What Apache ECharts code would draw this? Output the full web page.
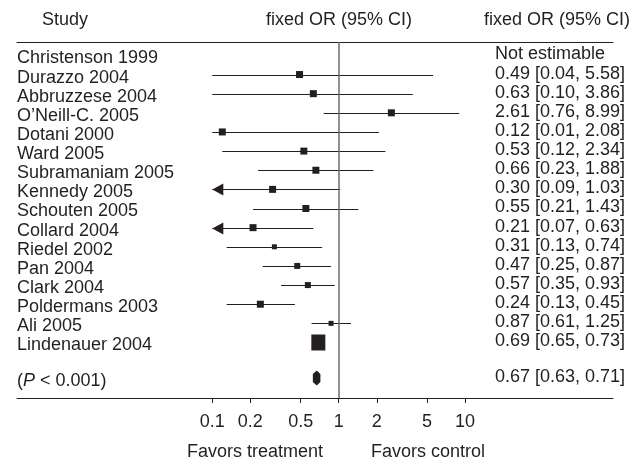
<!DOCTYPE html>
<html>
<head>
<meta charset="utf-8">
<script src="https://cdn.jsdelivr.net/npm/echarts@6/dist/echarts.min.js"></script>
<style>
  html, body { margin: 0; padding: 0; background: #fff; }
  #chart { width: 629px; height: 461px; }
</style>
</head>
<body>
<div id="chart"></div>
<script>
// ---- data ----
const studies = [
  'Christenson 1999', 'Durazzo 2004', 'Abbruzzese 2004', 'O\u2019Neill-C. 2005',
  'Dotani 2000', 'Ward 2005', 'Subramaniam 2005', 'Kennedy 2005',
  'Schouten 2005', 'Collard 2004', 'Riedel 2002', 'Pan 2004',
  'Clark 2004', 'Poldermans 2003', 'Ali 2005', 'Lindenauer 2004'
];
const oddsRatio = [null, 0.49, 0.63, 2.61, 0.12, 0.53, 0.66, 0.30, 0.55, 0.21, 0.31, 0.47, 0.57, 0.24, 0.87, 0.69];
const ciLower   = [null, 0.04, 0.10, 0.76, 0.01, 0.12, 0.23, 0.09, 0.21, 0.07, 0.13, 0.25, 0.35, 0.13, 0.61, 0.65];
const ciUpper   = [null, 5.58, 3.86, 8.99, 2.08, 2.34, 1.88, 1.03, 1.43, 0.63, 0.74, 0.87, 0.93, 0.45, 1.25, 0.73];
const pooledOR = 0.67;
const pooledCI = [0.63, 0.71];
const pooledLabel = '({i|P} < 0.001)';
const notEstimableText = 'Not estimable';
const tickValues = [0.1, 0.2, 0.5, 1, 2, 5, 10];
const arrowStudies = ['Kennedy 2005', 'Collard 2004'];
const displayFloor = 0.1;      // intervals below this are cut at the axis floor

// ---- style ----
const FONT = '"Liberation Sans", Arial, Helvetica, sans-serif';
const INK = '#231f20';
const FS = 18;
const markerSizes = [0, 7, 7, 7, 7, 7, 7, 7, 7, 7, 5, 6, 6, 7, 5, [14, 16]];
const summaryRow = 16.85;
const leftTextX = 17;
const rightTextX = 495;

const lg = Math.log10;
const fmt = v => v.toFixed(2);

// interval lines
const ciData = [];
studies.forEach((s, i) => {
  if (oddsRatio[i] == null) return;
  const lo = Math.max(ciLower[i], displayFloor);
  ciData.push([lg(lo), lg(ciUpper[i]), i, arrowStudies.includes(s) ? 1 : 0]);
});

// point estimates
const pointData = [];
studies.forEach((s, i) => {
  if (oddsRatio[i] == null) return;
  pointData.push({ value: [lg(oddsRatio[i]), i], symbolSize: markerSizes[i] });
});

// text columns
const leftText = studies.map((s, i) => [0, i, s]);
leftText.push([0, summaryRow, pooledLabel]);
const rightText = studies.map((s, i) => [0, i,
  oddsRatio[i] == null ? notEstimableText
    : `${fmt(oddsRatio[i])} [${fmt(ciLower[i])}, ${fmt(ciUpper[i])}]`]);
rightText.push([0, summaryRow, `${fmt(pooledOR)} [${fmt(pooledCI[0])}, ${fmt(pooledCI[1])}]`]);

const chart = echarts.init(document.getElementById('chart'), null, { renderer: 'canvas' });

const xMin = -2.545, xMax = 2.170;

const option = {
  animation: false,
  backgroundColor: '#fff',
  textStyle: { fontFamily: FONT },
  grid: { left: 17, right: 16, top: 42, bottom: 63 },
  xAxis: [{
    type: 'value', min: xMin, max: xMax, position: 'bottom',
    splitLine: { show: false },
    axisLine: { show: true, onZero: false, lineStyle: { color: INK, width: 1 } },
    axisTick: { show: true, customValues: tickValues.map(lg), length: 5, lineStyle: { color: INK, width: 1 } },
    axisLabel: {
      show: true, customValues: tickValues.map(lg), margin: 15,
      color: INK, fontSize: FS, fontFamily: FONT,
      formatter: v => String(+Math.pow(10, v).toPrecision(2))
    }
  }, {
    type: 'value', min: xMin, max: xMax, position: 'top',
    splitLine: { show: false },
    axisLine: { show: true, onZero: false, lineStyle: { color: INK, width: 1 } },
    axisTick: { show: false }, axisLabel: { show: false }
  }],
  yAxis: {
    type: 'value', inverse: true, min: -0.7, max: 17.9,
    show: false, splitLine: { show: false }
  },
  graphic: [
    { type: 'text', left: 42, top: 11, style: { text: 'Study', fill: INK, font: `${FS}px ${FONT}` } },
    { type: 'text', x: 339, y: 20, style: { text: 'fixed OR (95% CI)', fill: INK, font: `${FS}px ${FONT}`, textAlign: 'center', textVerticalAlign: 'middle' } },
    { type: 'text', x: 484, y: 20, style: { text: 'fixed OR (95% CI)', fill: INK, font: `${FS}px ${FONT}`, textAlign: 'left', textVerticalAlign: 'middle' } },
    { type: 'text', x: 323, y: 452, style: { text: 'Favors treatment', fill: INK, font: `${FS}px ${FONT}`, textAlign: 'right', textVerticalAlign: 'middle' } },
    { type: 'text', x: 371, y: 452, style: { text: 'Favors control', fill: INK, font: `${FS}px ${FONT}`, textAlign: 'left', textVerticalAlign: 'middle' } }
  ],
  series: [
    {
      type: 'custom', name: 'ci', data: ciData,
      encode: { x: [0, 1], y: 2 },
      renderItem: (params, api) => {
        const a = api.coord([api.value(0), api.value(2)]);
        const b = api.coord([api.value(1), api.value(2)]);
        const y = Math.round(a[1]) + 0.5;
        const children = [{
          type: 'line',
          shape: { x1: a[0], y1: y, x2: b[0], y2: y },
          style: { stroke: INK, lineWidth: 1.2 }
        }];
        if (api.value(3)) {
          children.push({
            type: 'polygon',
            shape: { points: [[a[0], y], [a[0] + 11, y - 6], [a[0] + 11, y + 6]] },
            style: { fill: INK }
          });
        }
        return { type: 'group', children };
      },
      markLine: {
        silent: true, symbol: 'none', animation: false,
        label: { show: false },
        lineStyle: { color: '#6d6d6d', width: 1.5, type: 'solid' },
        data: [{ xAxis: 0 }]
      },
      z: 2
    },
    {
      type: 'scatter', name: 'or', data: pointData,
      symbol: 'rect', itemStyle: { color: INK, opacity: 1 },
      z: 4
    },
    {
      type: 'custom', name: 'pooled',
      data: [[lg(pooledCI[0]), lg(pooledOR), lg(pooledCI[1]), summaryRow]],
      encode: { x: [0, 1, 2], y: 3 },
      renderItem: (params, api) => {
        const l = api.coord([api.value(0), api.value(3)]);
        const m = api.coord([api.value(1), api.value(3)]);
        const r = api.coord([api.value(2), api.value(3)]);
        const y = m[1];
        return {
          type: 'polygon',
          shape: { points: [
            [l[0] - 0.5, y - 4], [m[0], y - 7.5], [r[0] + 0.5, y - 4],
            [r[0] + 0.5, y + 4], [m[0], y + 7.5], [l[0] - 0.5, y + 4]
          ] },
          style: { fill: INK }
        };
      },
      z: 4
    },
    {
      type: 'custom', name: 'labels-left', data: leftText,
      encode: { y: 1 }, clip: false,
      renderItem: (params, api) => {
        const p = api.coord([0, api.value(1)]);
        return {
          type: 'text',
          style: {
            x: leftTextX, y: p[1] + 3,
            text: leftText[params.dataIndex][2],
            fill: INK, font: `${FS}px ${FONT}`,
            textAlign: 'left', textVerticalAlign: 'middle',
            rich: { i: { fontStyle: 'italic', fontSize: FS, fontFamily: FONT, fill: INK } }
          }
        };
      }
    },
    {
      type: 'custom', name: 'labels-right', data: rightText,
      encode: { y: 1 }, clip: false,
      renderItem: (params, api) => {
        const p = api.coord([0, api.value(1)]);
        return {
          type: 'text',
          style: {
            x: rightTextX, y: p[1] - 1,
            text: rightText[params.dataIndex][2],
            fill: INK, font: `${FS}px ${FONT}`,
            textAlign: 'left', textVerticalAlign: 'middle'
          }
        };
      }
    }
  ]
};

chart.setOption(option);
</script>
</body>
</html>
